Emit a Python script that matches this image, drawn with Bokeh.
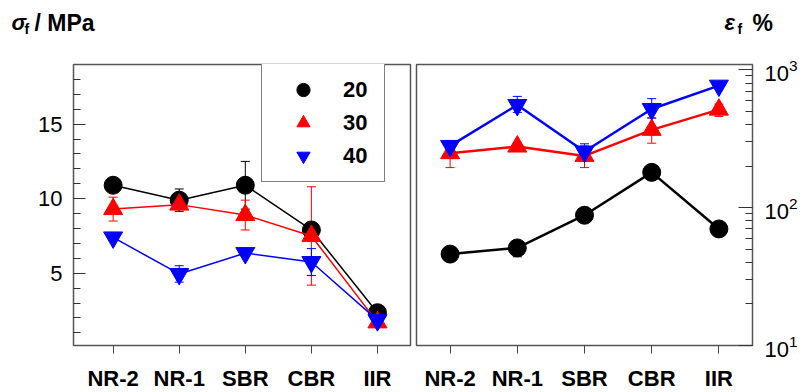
from bokeh.plotting import figure
from bokeh.layouts import row, column
from bokeh.models import (ColumnDataSource, Whisker, TeeHead, FixedTicker, Legend,
                          LegendItem, Range1d)
from bokeh.embed import file_html
from bokeh.resources import INLINE

# ---------------- data ----------------
categories = ["NR-2", "NR-1", "SBR", "CBR", "IIR"]
series_labels = ["20", "30", "40"]
series_colors = ["black", "red", "blue"]
series_markers = ["circle", "triangle", "inverted_triangle"]
series_sizes = [18, 19, 19]

# fracture stress sigma_f / MPa
sigma_20 = [10.9, 9.9, 10.9, 7.9, 2.35]
sigma_20_err = [0.3, 0.75, 1.6, 0.4, 0.2]
sigma_30 = [9.3, 9.6, 8.9, 7.5, 1.7]
sigma_30_err = [0.8, 0.3, 1.0, 3.3, 0.2]
sigma_40 = [7.4, 4.95, 6.35, 5.75, 1.85]
sigma_40_err = [0.2, 0.55, 0.2, 0.9, 0.2]

# fracture strain eps_f / %  (log scale)
eps_20 = [46, 51, 88, 180, 70]
eps_20_lo = [44, 44, 85, 172, 67]
eps_20_hi = [48, 55, 92, 188, 73]
eps_30 = [248, 277, 237, 366, 513]
eps_30_lo = [195, 262, 195, 293, 458]
eps_30_hi = [300, 293, 280, 446, 563]
eps_40 = [280, 555, 255, 519, 766]
eps_40_lo = [265, 490, 235, 446, 740]
eps_40_hi = [295, 640, 290, 616, 790]

sigma_tick_values = [5, 10, 15]
sigma_minor_ticks = [1, 2, 3, 4, 6, 7, 8, 9, 11, 12, 13, 14, 16, 17, 18]
eps_tick_values = [10, 100, 1000]
eps_minor_ticks = [20, 30, 40, 50, 60, 70, 80, 90, 200, 300, 400, 500, 600, 700, 800, 900]

# panel titles (text pieces)
title_texts = ["σ", "f", "/ MPa", "ε", "f", "%"]

FONT = "Liberation Sans"
xpos = list(range(len(categories)))


def base_style(p):
    p.grid.visible = False
    p.outline_line_color = "#555555"
    p.outline_line_width = 1.5
    p.background_fill_color = "white"
    p.border_fill_color = "white"
    for ax in p.xaxis:
        ax.ticker = FixedTicker(ticks=xpos)
        ax.major_label_overrides = {i: c for i, c in enumerate(categories)}
        ax.axis_line_color = None
        ax.major_tick_in = 0
        ax.major_tick_out = 8
        ax.major_tick_line_color = "#444444"
        ax.minor_tick_line_color = None
        ax.major_label_text_font = FONT
        ax.major_label_text_font_size = "22px"
        ax.major_label_text_font_style = "bold"
        ax.major_label_text_color = "black"
        ax.major_label_standoff = 12
    for ax in p.yaxis:
        ax.axis_line_color = None
        ax.major_tick_in = 12
        ax.major_tick_out = 0
        ax.minor_tick_in = 7
        ax.minor_tick_out = 0
        ax.major_tick_line_color = "#333333"
        ax.minor_tick_line_color = "#333333"
        ax.major_label_text_font = FONT
        ax.major_label_text_font_size = "22px"
        ax.major_label_text_color = "black"
        ax.major_label_standoff = 11


# ---------------- title strip ----------------
TW, TH = 802, 44
pt = figure(width=TW, height=TH, min_border=0, x_range=Range1d(0, TW), y_range=Range1d(TH, 0),
            x_axis_location=None, y_axis_location=None,
            output_backend="svg", toolbar_location=None)
pt.grid.visible = False
pt.outline_line_color = None
pt.border_fill_color = "white"
pt.background_fill_color = "white"
tsrc = ColumnDataSource(dict(
    x=[11, 24, 34, 724, 737, 752],
    y=[22, 28, 22, 22, 28, 22],
    text=title_texts,
    size=["22px", "14px", "23px", "22px", "14px", "23px"],
    style=["bold italic", "bold", "bold", "bold italic", "bold", "bold"],
))
pt.text(x="x", y="y", text="text", source=tsrc, text_font_size="size",
        text_font_style="style", text_baseline="alphabetic", text_align="left",
        text_color="black", text_font={"value": FONT})

# ---------------- left panel ----------------
p1 = figure(frame_width=337, frame_height=281, min_border_left=73, min_border_right=3,
            min_border_top=20, min_border_bottom=5,
            x_range=Range1d(-0.6, 4.5), y_range=Range1d(0.15, 19),
            output_backend="svg", toolbar_location=None)
base_style(p1)
p1.yaxis.ticker = FixedTicker(ticks=sigma_tick_values, minor_ticks=sigma_minor_ticks)

sig_vals = [sigma_20, sigma_30, sigma_40]
sig_errs = [sigma_20_err, sigma_30_err, sigma_40_err]
legend_items = []
for vals, errs, col, mk, sz, lab in zip(sig_vals, sig_errs, series_colors,
                                        series_markers, series_sizes, series_labels):
    src = ColumnDataSource(dict(x=xpos, y=vals,
                                lower=[v - e for v, e in zip(vals, errs)],
                                upper=[v + e for v, e in zip(vals, errs)]))
    p1.add_layout(Whisker(source=src, base="x", lower="lower", upper="upper",
                          line_color=col, line_width=1,
                          upper_head=TeeHead(size=9, line_color=col, line_width=1),
                          lower_head=TeeHead(size=9, line_color=col, line_width=1)))
    p1.line("x", "y", source=src, line_color=col, line_width=1.5)
    r = p1.scatter("x", "y", source=src, marker=mk, size=sz, fill_color=col, line_color=col)
    legend_items.append(LegendItem(label=lab, renderers=[r]))

legend = Legend(items=legend_items, location=(188, 163), margin=0, padding=9, spacing=0,
                glyph_width=64, glyph_height=33, label_standoff=8, label_width=32,
                label_text_font=FONT, label_text_font_size="22px",
                label_text_font_style="bold", label_text_color="black", label_height=33,
                border_line_color="black", border_line_width=1.2,
                background_fill_color="white", background_fill_alpha=1)
p1.add_layout(legend)

# ---------------- right panel ----------------
p2 = figure(frame_width=336, frame_height=281, min_border_left=3, min_border_right=50,
            min_border_top=20, min_border_bottom=5,
            x_range=Range1d(-0.5, 4.5), y_range=Range1d(10, 1090),
            y_axis_type="log", y_axis_location="right",
            output_backend="svg", toolbar_location=None)
base_style(p2)
p2.yaxis.ticker = FixedTicker(ticks=eps_tick_values, minor_ticks=eps_minor_ticks)
p2.yaxis.major_tick_in = 14
p2.yaxis.major_label_standoff = 12

eps_vals = [eps_20, eps_30, eps_40]
eps_los = [eps_20_lo, eps_30_lo, eps_40_lo]
eps_his = [eps_20_hi, eps_30_hi, eps_40_hi]
for vals, lo, hi, col, mk, sz in zip(eps_vals, eps_los, eps_his, series_colors,
                                     series_markers, series_sizes):
    src = ColumnDataSource(dict(x=xpos, y=vals, lower=lo, upper=hi))
    p2.add_layout(Whisker(source=src, base="x", lower="lower", upper="upper",
                          line_color=col, line_width=1,
                          upper_head=TeeHead(size=9, line_color=col, line_width=1),
                          lower_head=TeeHead(size=9, line_color=col, line_width=1)))
    p2.line("x", "y", source=src, line_color=col, line_width=2.5)
    p2.scatter("x", "y", source=src, marker=mk, size=sz, fill_color=col, line_color=col)

layout = column(pt, row(p1, p2))
open("out.html", "w").write(file_html(layout, INLINE))
